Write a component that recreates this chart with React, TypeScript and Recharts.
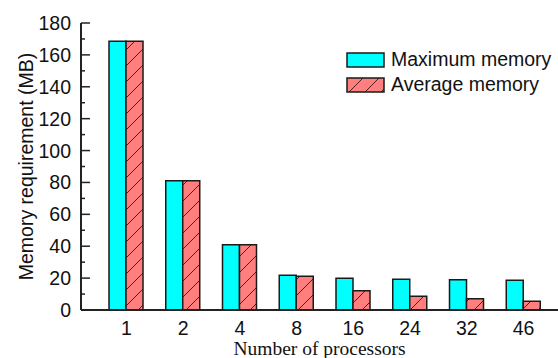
import React from 'react';
import { BarChart, Bar, XAxis, YAxis, Legend } from 'recharts';

const categories = ['1', '2', '4', '8', '16', '24', '32', '46'];
const maxMemory = [168.5, 81, 41, 21.8, 19.9, 19.3, 19.0, 18.6];
const avgMemory = [168.5, 81, 41, 21.1, 12.1, 8.6, 7.1, 5.5];
const yTicks = [0, 10, 20, 30, 40, 50, 60, 70, 80, 90, 100, 110, 120, 130, 140, 150, 160, 170, 180];

const data = categories.map((c, i) => ({ cat: c, max: maxMemory[i], avg: avgMemory[i] }));

const SANS = '"Liberation Sans", Arial, sans-serif';
const SERIF = '"Liberation Serif", "Times New Roman", serif';
const CYAN = '#00FFFF';
const RED = '#FF7F7F';
const EDGE = '#1a1a1a';

const YTick = (props: any) => {
  const { x, y, payload } = props;
  const v = payload.value;
  const major = v % 20 === 0;
  const axisX = x + 10;
  return (
    <g>
      <line x1={axisX} x2={axisX + (major ? 9 : 4)} y1={y} y2={y} stroke="#222" strokeWidth={1.5} />
      {major && (
        <text x={x} y={y} dy="0.36em" textAnchor="end" fontFamily={SANS} fontSize={19.5} fill="#111">
          {v}
        </text>
      )}
    </g>
  );
};

const Hatch = ({ id }: { id: string }) => (
  <pattern id={id} patternUnits="userSpaceOnUse" width={16} height={16}>
    <rect x={0} y={0} width={16} height={16} fill={RED} />
    <line x1={0} y1={16} x2={16} y2={0} stroke="#4a2020" strokeWidth={1} />
    <line x1={-4} y1={4} x2={4} y2={-4} stroke="#4a2020" strokeWidth={1} />
    <line x1={12} y1={20} x2={20} y2={12} stroke="#4a2020" strokeWidth={1} />
  </pattern>
);

const LegendContent = () => (
  <svg width={213} height={50} style={{ display: 'block' }}>
    <defs>
      <Hatch id="hatchLegend" />
    </defs>
    <rect x={2} y={5} width={37} height={14} fill={CYAN} stroke={EDGE} strokeWidth={1.5} />
    <text x={46} y={18} fontFamily={SANS} fontSize={19.5} fill="#111">Maximum memory</text>
    <rect x={2} y={30} width={37} height={14} fill="url(#hatchLegend)" stroke={EDGE} strokeWidth={1.5} />
    <text x={46} y={43} fontFamily={SANS} fontSize={19.5} fill="#111">Average memory</text>
  </svg>
);

const YLabel = (props: any) => {
  const vb = props.viewBox || { x: 0, y: 0, width: 81, height: 287 };
  const cx = vb.x + 33;
  const cy = vb.y + vb.height / 2;
  return (
    <text x={cx} y={cy} transform={`rotate(-90, ${cx}, ${cy})`} textAnchor="middle" fontFamily={SANS} fontSize={19.5} fill="#111">
      Memory requirement (MB)
    </text>
  );
};

export default function App() {
  return (
    <div style={{ position: 'absolute', left: 0, top: 0, width: 558, height: 358, background: '#fff' }}>
      <BarChart width={558} height={358} data={data} margin={{ top: 23, right: 0, bottom: 0, left: 0 }} barGap={0} barSize={17}>
        <defs>
          <Hatch id="hatchBar" />
        </defs>
        <XAxis
          dataKey="cat"
          height={48}
          padding={{ left: 17, right: 6 }}
          tickLine={false}
          tickSize={0}
          tickMargin={11.5}
          axisLine={{ stroke: '#222', strokeWidth: 2 }}
          tick={{ fontFamily: SANS, fontSize: 19.5, fill: '#111' }}
          interval={0}
          label={{ value: 'Number of processors', position: 'insideBottom', offset: 3, style: { fontFamily: SERIF, fontSize: 19.5, fill: '#111' } }}
        />
        <YAxis
          width={81}
          domain={[0, 180]}
          ticks={yTicks}
          interval={0}
          tickLine={false}
          tickSize={0}
          tickMargin={10}
          axisLine={{ stroke: '#222', strokeWidth: 2 }}
          tick={<YTick />}
          label={<YLabel />}
        />
        <Legend
          layout="vertical"
          align="center"
          verticalAlign="middle"
          content={<LegendContent />}
          wrapperStyle={{ position: 'absolute', left: 345, top: 48, width: 213, height: 50 }}
        />
        <Bar dataKey="max" name="Maximum memory" fill={CYAN} stroke={EDGE} strokeWidth={1.5} isAnimationActive={false} />
        <Bar dataKey="avg" name="Average memory" fill="url(#hatchBar)" stroke={EDGE} strokeWidth={1.5} isAnimationActive={false} />
      </BarChart>
    </div>
  );
}
